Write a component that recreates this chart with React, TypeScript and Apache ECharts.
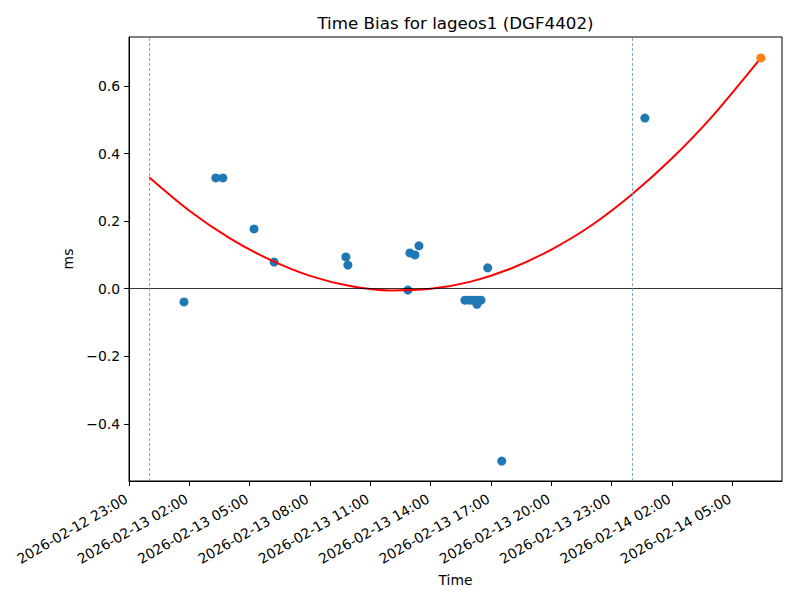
import React, { useEffect, useRef } from "react";
import * as echarts from "echarts";

// Observations (blue)
const obsTimes = [
  "2026-02-13 01:44", "2026-02-13 03:19", "2026-02-13 03:40", "2026-02-13 05:13",
  "2026-02-13 06:13", "2026-02-13 09:47", "2026-02-13 09:53", "2026-02-13 12:52",
  "2026-02-13 12:58", "2026-02-13 13:13", "2026-02-13 13:25", "2026-02-13 15:42",
  "2026-02-13 15:54", "2026-02-13 16:03", "2026-02-13 16:12", "2026-02-13 16:18",
  "2026-02-13 16:21", "2026-02-13 16:30", "2026-02-13 16:50", "2026-02-13 17:32",
  "2026-02-14 00:39",
];
const obsValues = [
  -0.039, 0.328, 0.328, 0.177,
  0.079, 0.094, 0.070, -0.004,
  0.106, 0.100, 0.127, -0.034,
  -0.034, -0.034, -0.034, -0.046,
  -0.034, -0.034, 0.062, -0.510,
  0.505,
];

// Prediction point (orange)
const predTimes = ["2026-02-14 06:25"];
const predValues = [0.683];

// Fitted curve (red)
const fitTimes = [
  "2026-02-13 00:00", "2026-02-13 02:00", "2026-02-13 04:00", "2026-02-13 06:00",
  "2026-02-13 08:00", "2026-02-13 10:00", "2026-02-13 12:00", "2026-02-13 14:00",
  "2026-02-13 16:00", "2026-02-13 18:00", "2026-02-13 20:00", "2026-02-13 22:00",
  "2026-02-14 00:00", "2026-02-14 02:00", "2026-02-14 04:00", "2026-02-14 06:25",
];
const fitValues = [
  0.330, 0.231, 0.150, 0.086,
  0.038, 0.008, -0.005, 0.000,
  0.021, 0.060, 0.116, 0.188,
  0.279, 0.386, 0.510, 0.683,
];

// Day boundaries (dashed verticals)
const dayMarks = ["2026-02-13 00:00", "2026-02-14 00:00"];

// Axis
const xStart = "2026-02-12 23:00";
const xEnd = "2026-02-14 07:28";
const xTickStepHours = 3;
const xTickCount = 11;
const yTicks = [-0.4, -0.2, 0.0, 0.2, 0.4, 0.6];
const yMin = -0.569;
const yMax = 0.745;

const parseUTC = (s: string) => {
  const [d, tm] = s.split(" ");
  const [Y, M, D] = d.split("-").map(Number);
  const [h, m] = tm.split(":").map(Number);
  return Date.UTC(Y, M - 1, D, h, m);
};
const BASE = parseUTC(xStart);
const toH = (s: string) => (parseUTC(s) - BASE) / 3600000;
const pad = (n: number) => (n < 10 ? "0" + n : "" + n);
const fmtTime = (h: number) => {
  const d = new Date(BASE + Math.round(h * 3600000));
  return `${d.getUTCFullYear()}-${pad(d.getUTCMonth() + 1)}-${pad(d.getUTCDate())} ${pad(d.getUTCHours())}:${pad(d.getUTCMinutes())}`;
};

const FONT = "DejaVu Sans";

export default function App() {
  const ref = useRef<HTMLDivElement>(null);
  useEffect(() => {
    if (!ref.current) return;
    const chart = echarts.init(ref.current, null, { renderer: "svg" });
    const xTicks = Array.from({ length: xTickCount }, (_, i) => i * xTickStepHours);
    const gridLeft = 129, gridRight = 18, gridTop = 37, gridBottom = 119;
    chart.setOption({
      animation: false,
      backgroundColor: "#fff",
      textStyle: { fontFamily: FONT },
      grid: {
        left: gridLeft, right: gridRight, top: gridTop, bottom: gridBottom,
        show: true, borderColor: "#000", borderWidth: 1, backgroundColor: "transparent",
      },
      graphic: [
        {
          type: "text",
          x: (gridLeft + 800 - gridRight) / 2,
          y: 23,
          style: {
            text: "Time Bias for lageos1 (DGF4402)",
            fontFamily: FONT, fontSize: 16.7, fill: "#000",
            textAlign: "center", textVerticalAlign: "middle",
          },
        },
      ],
      xAxis: {
        type: "value",
        min: 0,
        max: toH(xEnd),
        interval: xTickStepHours,
        axisLine: { show: true, onZero: false, lineStyle: { color: "#000", width: 1 } },
        axisTick: { show: true, length: 5, lineStyle: { color: "#000" }, customValues: xTicks },
        axisLabel: {
          rotate: 30, margin: 15, padding: [0, 3, 0, 0], fontSize: 13.9, color: "#000", fontFamily: FONT,
          customValues: xTicks, formatter: (v: number) => fmtTime(v),
        },
        splitLine: { show: false },
        name: "Time",
        nameLocation: "middle",
        nameGap: 87,
        nameTextStyle: { fontSize: 13.9, color: "#000", fontFamily: FONT },
      },
      yAxis: {
        type: "value",
        min: yMin,
        max: yMax,
        axisLine: { show: true, lineStyle: { color: "#000", width: 1 } },
        axisTick: { show: true, length: 5, lineStyle: { color: "#000" }, customValues: yTicks },
        axisLabel: {
          margin: 9, fontSize: 13.9, color: "#000", fontFamily: FONT,
          customValues: yTicks,
          formatter: (v: number) => v.toFixed(1).replace("-", "\u2212"),
        },
        splitLine: { show: false },
        name: "ms",
        nameLocation: "middle",
        nameGap: 47,
        nameTextStyle: { fontSize: 13.9, color: "#000", fontFamily: FONT },
      },
      series: [
        {
          type: "line",
          data: [],
          silent: true,
          markLine: {
            silent: true,
            symbol: "none",
            label: { show: false },
            data: [
              { yAxis: 0, lineStyle: { color: "#000", width: 0.8, type: "solid" } },
              ...dayMarks.map((d) => ({
                xAxis: toH(d),
                lineStyle: { color: "#5f8fbf", width: 0.8, type: [3, 2] },
              })),
            ],
          },
          z: 1,
        },
        {
          type: "scatter",
          data: obsTimes.map((t, i) => [toH(t), obsValues[i]]),
          symbolSize: 9,
          itemStyle: { color: "#1f77b4", opacity: 1 },
          z: 2,
        },
        {
          type: "line",
          data: fitTimes.map((t, i) => [toH(t), fitValues[i]]),
          smooth: 0.3,
          showSymbol: false,
          lineStyle: { color: "#ff0000", width: 2 },
          z: 3,
        },
        {
          type: "scatter",
          data: predTimes.map((t, i) => [toH(t), predValues[i]]),
          symbolSize: 9,
          itemStyle: { color: "#ff7f0e", opacity: 1 },
          z: 4,
        },
      ],
    });
    return () => chart.dispose();
  }, []);
  return (
    <div
      ref={ref}
      style={{ position: "absolute", left: 0, top: 0, width: 800, height: 600 }}
    />
  );
}
